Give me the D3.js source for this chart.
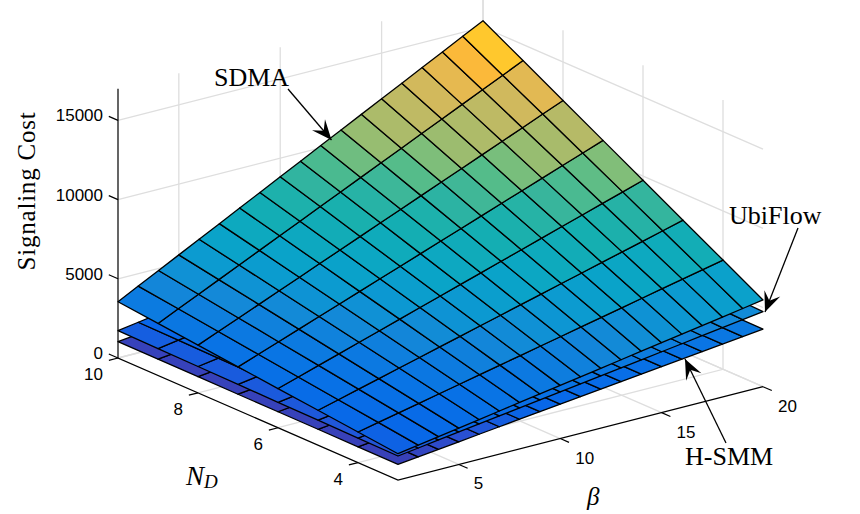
<!DOCTYPE html>
<html>
<head>
<meta charset="utf-8">
<script src="https://cdn.jsdelivr.net/npm/d3@7"></script>
<style>
  body { margin: 0; background: #fff; }
  text { fill: #000; }
</style>
</head>
<body>
<div id="chart"></div>
<script>
// grid of the three surfaces
const betaValues = [2, 3, 4, 5, 6, 7, 8, 9, 10, 11, 12, 13, 14, 15, 16, 17, 18, 19, 20];
const ndValues = [3, 4, 5, 6, 7, 8, 9, 10];

// signaling cost, one row per N_D
const costSmm = [
    [990, 1137, 1284, 1431, 1579, 1726, 1873, 2020, 2168, 2315, 2462, 2609, 2757, 2904, 3051, 3198, 3346, 3493, 3640],
    [996, 1143, 1291, 1438, 1586, 1733, 1881, 2028, 2176, 2323, 2471, 2618, 2766, 2913, 3061, 3208, 3356, 3503, 3651],
    [1002, 1150, 1298, 1445, 1593, 1741, 1889, 2037, 2184, 2332, 2480, 2628, 2776, 2923, 3071, 3219, 3367, 3515, 3662],
    [1008, 1156, 1304, 1452, 1600, 1748, 1896, 2044, 2192, 2340, 2488, 2636, 2784, 2932, 3080, 3228, 3376, 3524, 3672],
    [1014, 1162, 1311, 1459, 1607, 1755, 1904, 2052, 2200, 2349, 2497, 2645, 2794, 2942, 3090, 3238, 3387, 3535, 3683],
    [1020, 1169, 1317, 1466, 1614, 1763, 1911, 2060, 2208, 2357, 2505, 2654, 2802, 2951, 3099, 3248, 3396, 3545, 3693],
    [1025, 1174, 1323, 1472, 1621, 1770, 1919, 2068, 2217, 2366, 2515, 2664, 2813, 2962, 3111, 3260, 3409, 3558, 3707],
    [1030, 1179, 1329, 1478, 1628, 1777, 1927, 2076, 2226, 2375, 2525, 2674, 2824, 2973, 3123, 3272, 3422, 3571, 3720]
];
const costUbiFlow = [
    [1515, 1694, 1873, 2052, 2231, 2410, 2589, 2768, 2947, 3126, 3305, 3484, 3663, 3842, 4021, 4200, 4379, 4558, 4737],
    [1545, 1728, 1910, 2093, 2276, 2458, 2641, 2824, 3006, 3189, 3372, 3554, 3737, 3920, 4102, 4285, 4468, 4650, 4833],
    [1575, 1761, 1948, 2134, 2320, 2507, 2693, 2879, 3066, 3252, 3438, 3625, 3811, 3997, 4184, 4370, 4556, 4743, 4929],
    [1605, 1795, 1985, 2175, 2365, 2555, 2745, 2935, 3125, 3315, 3505, 3695, 3885, 4075, 4265, 4455, 4645, 4835, 5025],
    [1635, 1829, 2022, 2216, 2410, 2603, 2797, 2991, 3184, 3378, 3572, 3765, 3959, 4153, 4346, 4540, 4734, 4927, 5121],
    [1665, 1863, 2060, 2258, 2455, 2653, 2850, 3048, 3245, 3443, 3640, 3838, 4035, 4233, 4430, 4628, 4825, 5023, 5220],
    [1695, 1896, 2098, 2299, 2500, 2702, 2903, 3104, 3306, 3507, 3708, 3910, 4111, 4312, 4514, 4715, 4916, 5118, 5319],
    [1724, 1929, 2134, 2339, 2544, 2749, 2954, 3159, 3364, 3569, 3774, 3979, 4184, 4389, 4594, 4799, 5004, 5209, 5414]
];
const costSdma = [
    [1660, 1872, 2084, 2296, 2508, 2720, 2932, 3144, 3356, 3568, 3780, 3992, 4204, 4416, 4628, 4840, 5052, 5264, 5476],
    [1931, 2207, 2483, 2758, 3034, 3310, 3586, 3862, 4137, 4413, 4689, 4965, 5241, 5516, 5792, 6068, 6344, 6620, 6895],
    [2201, 2541, 2880, 3220, 3559, 3899, 4238, 4578, 4917, 5257, 5596, 5936, 6275, 6615, 6954, 7294, 7633, 7973, 8312],
    [2472, 2875, 3279, 3682, 4085, 4489, 4892, 5295, 5698, 6102, 6505, 6908, 7312, 7715, 8118, 8522, 8925, 9328, 9731],
    [2742, 3209, 3676, 4143, 4610, 5077, 5544, 6011, 6478, 6945, 7412, 7879, 8346, 8813, 9280, 9747, 10214, 10681, 11148],
    [3013, 3544, 4075, 4605, 5136, 5667, 6198, 6729, 7259, 7790, 8321, 8852, 9383, 9913, 10444, 10975, 11506, 12037, 12567],
    [3284, 3879, 4473, 5068, 5662, 6257, 6852, 7446, 8041, 8635, 9230, 9825, 10419, 11014, 11608, 12203, 12798, 13392, 13987],
    [3554, 4212, 4871, 5529, 6187, 6846, 7504, 8162, 8820, 9479, 10137, 10795, 11454, 12112, 12770, 13429, 14087, 14745, 15403]
];

const betaTicks = [5, 10, 15, 20];
const ndTicks = [4, 6, 8, 10];
const costTicks = [0, 5000, 10000, 15000];
const costTop = 17000;

// colormap stops, cost -> colour
const colorCost = [1000, 1500, 2000, 3000, 3700, 4500, 5400, 6300, 7000, 7800, 8400, 9000, 9700, 10400, 11000, 11700, 12500, 13128, 13755, 14382];
const colorHex = ["#3a3fb5", "#2a50d2", "#0866e8", "#0872e6", "#0c7ae0", "#1488d8", "#0c98d2", "#0aa4c8", "#0eaabd", "#16afb0",
    "#23b2a8", "#3bb69a", "#58bd88", "#8fbe74", "#a5bb6c", "#b9ba66", "#d2b95c", "#e6b950", "#fbb93a", "#ffc82d"];
const color = d3.scaleLinear(colorCost, colorHex).clamp(true);

// oblique projection of the MATLAB view, each axis has a screen x and y part
const originX = 398, originY = 480;
const betaX = d3.scaleLinear([2, 20], [0, 365]);
const betaY = d3.scaleLinear([2, 20], [0, -93.3]);
const ndX = d3.scaleLinear([3, 10], [0, -280]);
const ndY = d3.scaleLinear([3, 10], [0, -122]);
const costY = d3.scaleLinear([0, 5000], [0, -79.2]);

function project(beta, nd, cost) {
    return [originX + betaX(beta) + ndX(nd), originY + betaY(beta) + ndY(nd) + costY(cost)];
}

const svg = d3.select("#chart").append("svg")
    .attr("width", 860)
    .attr("height", 514)
    .style("display", "block");

const line3d = pts => "M" + pts.map(p => project(p[0], p[1], p[2]).join(",")).join("L");

// grey grid on the floor and on the two back walls
const grid = svg.append("g")
    .attr("fill", "none")
    .attr("stroke", "#dedede")
    .attr("stroke-width", 1.3);

betaTicks.forEach(b => {
    grid.append("path").attr("d", line3d([[b, 3, 0], [b, 10, 0], [b, 10, costTop]]));
});
ndTicks.forEach(n => {
    grid.append("path").attr("d", line3d([[2, n, 0], [20, n, 0], [20, n, costTop]]));
});
costTicks.forEach(c => {
    grid.append("path").attr("d", line3d([[2, 10, c], [20, 10, c], [20, 3, c]]));
});

// black axes and ticks
const axes = svg.append("g")
    .attr("fill", "none")
    .attr("stroke", "#000")
    .attr("stroke-width", 1.2);

axes.append("path").attr("d", line3d([[2, 10, costTop], [2, 10, 0], [2, 3, 0], [20, 3, 0]]));
betaTicks.forEach(b => {
    axes.append("path").attr("d", line3d([[b, 3, 0], [b, 2.78, 0]]));
});
ndTicks.forEach(n => {
    axes.append("path").attr("d", line3d([[2, n, 0], [1.55, n, 0]]));
});
costTicks.forEach(c => {
    axes.append("path").attr("d", line3d([[2, 10, c], [2, 10.23, c]]));
});

// surfaces, lowest first so the upper one hides it
[costSmm, costUbiFlow, costSdma].forEach(cost => {
    const cells = [];
    ndValues.slice(0, -1).forEach((n, i) => {
        betaValues.slice(0, -1).forEach((b, j) => {
            cells.push({
                corners: [
                    [b, n, cost[i][j]],
                    [betaValues[j + 1], n, cost[i][j + 1]],
                    [betaValues[j + 1], ndValues[i + 1], cost[i + 1][j + 1]],
                    [b, ndValues[i + 1], cost[i + 1][j]]
                ],
                value: (cost[i][j] + cost[i][j + 1] + cost[i + 1][j] + cost[i + 1][j + 1]) / 4
            });
        });
    });
    svg.append("g").selectAll("path")
        .data(cells)
        .enter()
        .append("path")
        .attr("d", d => line3d(d.corners) + "Z")
        .attr("fill", d => color(d.value))
        .attr("stroke", "#000")
        .attr("stroke-width", 1.3)
        .attr("stroke-linejoin", "round");
});

// tick labels
const sans = "'Liberation Sans', Arial, sans-serif";
const serif = "'Liberation Serif', 'Times New Roman', serif";
const tickLabels = svg.append("g")
    .attr("font-family", sans)
    .attr("font-size", 17);

tickLabels.selectAll(".cost")
    .data(costTicks)
    .enter().append("text")
    .attr("text-anchor", "end")
    .attr("x", 103)
    .attr("y", d => project(2, 10, d)[1] + 1)
    .text(d => d);
tickLabels.selectAll(".nd")
    .data(ndTicks)
    .enter().append("text")
    .attr("text-anchor", "end")
    .attr("x", d => project(2, d, 0)[0] - 15)
    .attr("y", d => project(2, d, 0)[1] + 22)
    .text(d => d);
tickLabels.selectAll(".beta")
    .data(betaTicks)
    .enter().append("text")
    .attr("x", d => project(d, 3, 0)[0] + 15)
    .attr("y", d => project(d, 3, 0)[1] + 25)
    .text(d => d);

// axis titles
svg.append("text")
    .attr("transform", "translate(35,191) rotate(-90)")
    .attr("text-anchor", "middle")
    .attr("font-family", serif)
    .attr("font-size", 25)
    .attr("letter-spacing", 0.8)
    .text("Signaling Cost");

const ndTitle = svg.append("text")
    .attr("x", 186)
    .attr("y", 485)
    .attr("font-family", serif)
    .attr("font-style", "italic")
    .attr("font-size", 27);
ndTitle.append("tspan").text("N");
ndTitle.append("tspan").attr("font-size", 19).attr("dy", 3).text("D");

svg.append("text")
    .attr("x", 587)
    .attr("y", 505)
    .attr("font-family", serif)
    .attr("font-style", "italic")
    .attr("font-size", 25)
    .text("β");

// annotations
const notes = [
    { label: "SDMA", x: 214, y: 86, from: [288, 89], to: [331.5, 140] },
    { label: "UbiFlow", x: 729, y: 224, from: [798, 228], to: [765, 312] },
    { label: "H-SMM", x: 685, y: 465, from: [726, 443], to: [685, 359] }
];

notes.forEach(d => {
    svg.append("text")
        .attr("x", d.x)
        .attr("y", d.y)
        .attr("font-family", serif)
        .attr("font-size", 26)
        .text(d.label);

    svg.append("line")
        .attr("x1", d.from[0]).attr("y1", d.from[1])
        .attr("x2", d.to[0]).attr("y2", d.to[1])
        .attr("stroke", "#000")
        .attr("stroke-width", 1.3);

    // arrow head with a swept back
    const angle = Math.atan2(d.to[1] - d.from[1], d.to[0] - d.from[0]) * 180 / Math.PI;
    svg.append("path")
        .attr("transform", "translate(" + d.to + ") rotate(" + angle + ")")
        .attr("d", "M0,0L-20,-8.5L-12,0L-20,8.5Z")
        .attr("fill", "#000");
});
</script>
</body>
</html>
